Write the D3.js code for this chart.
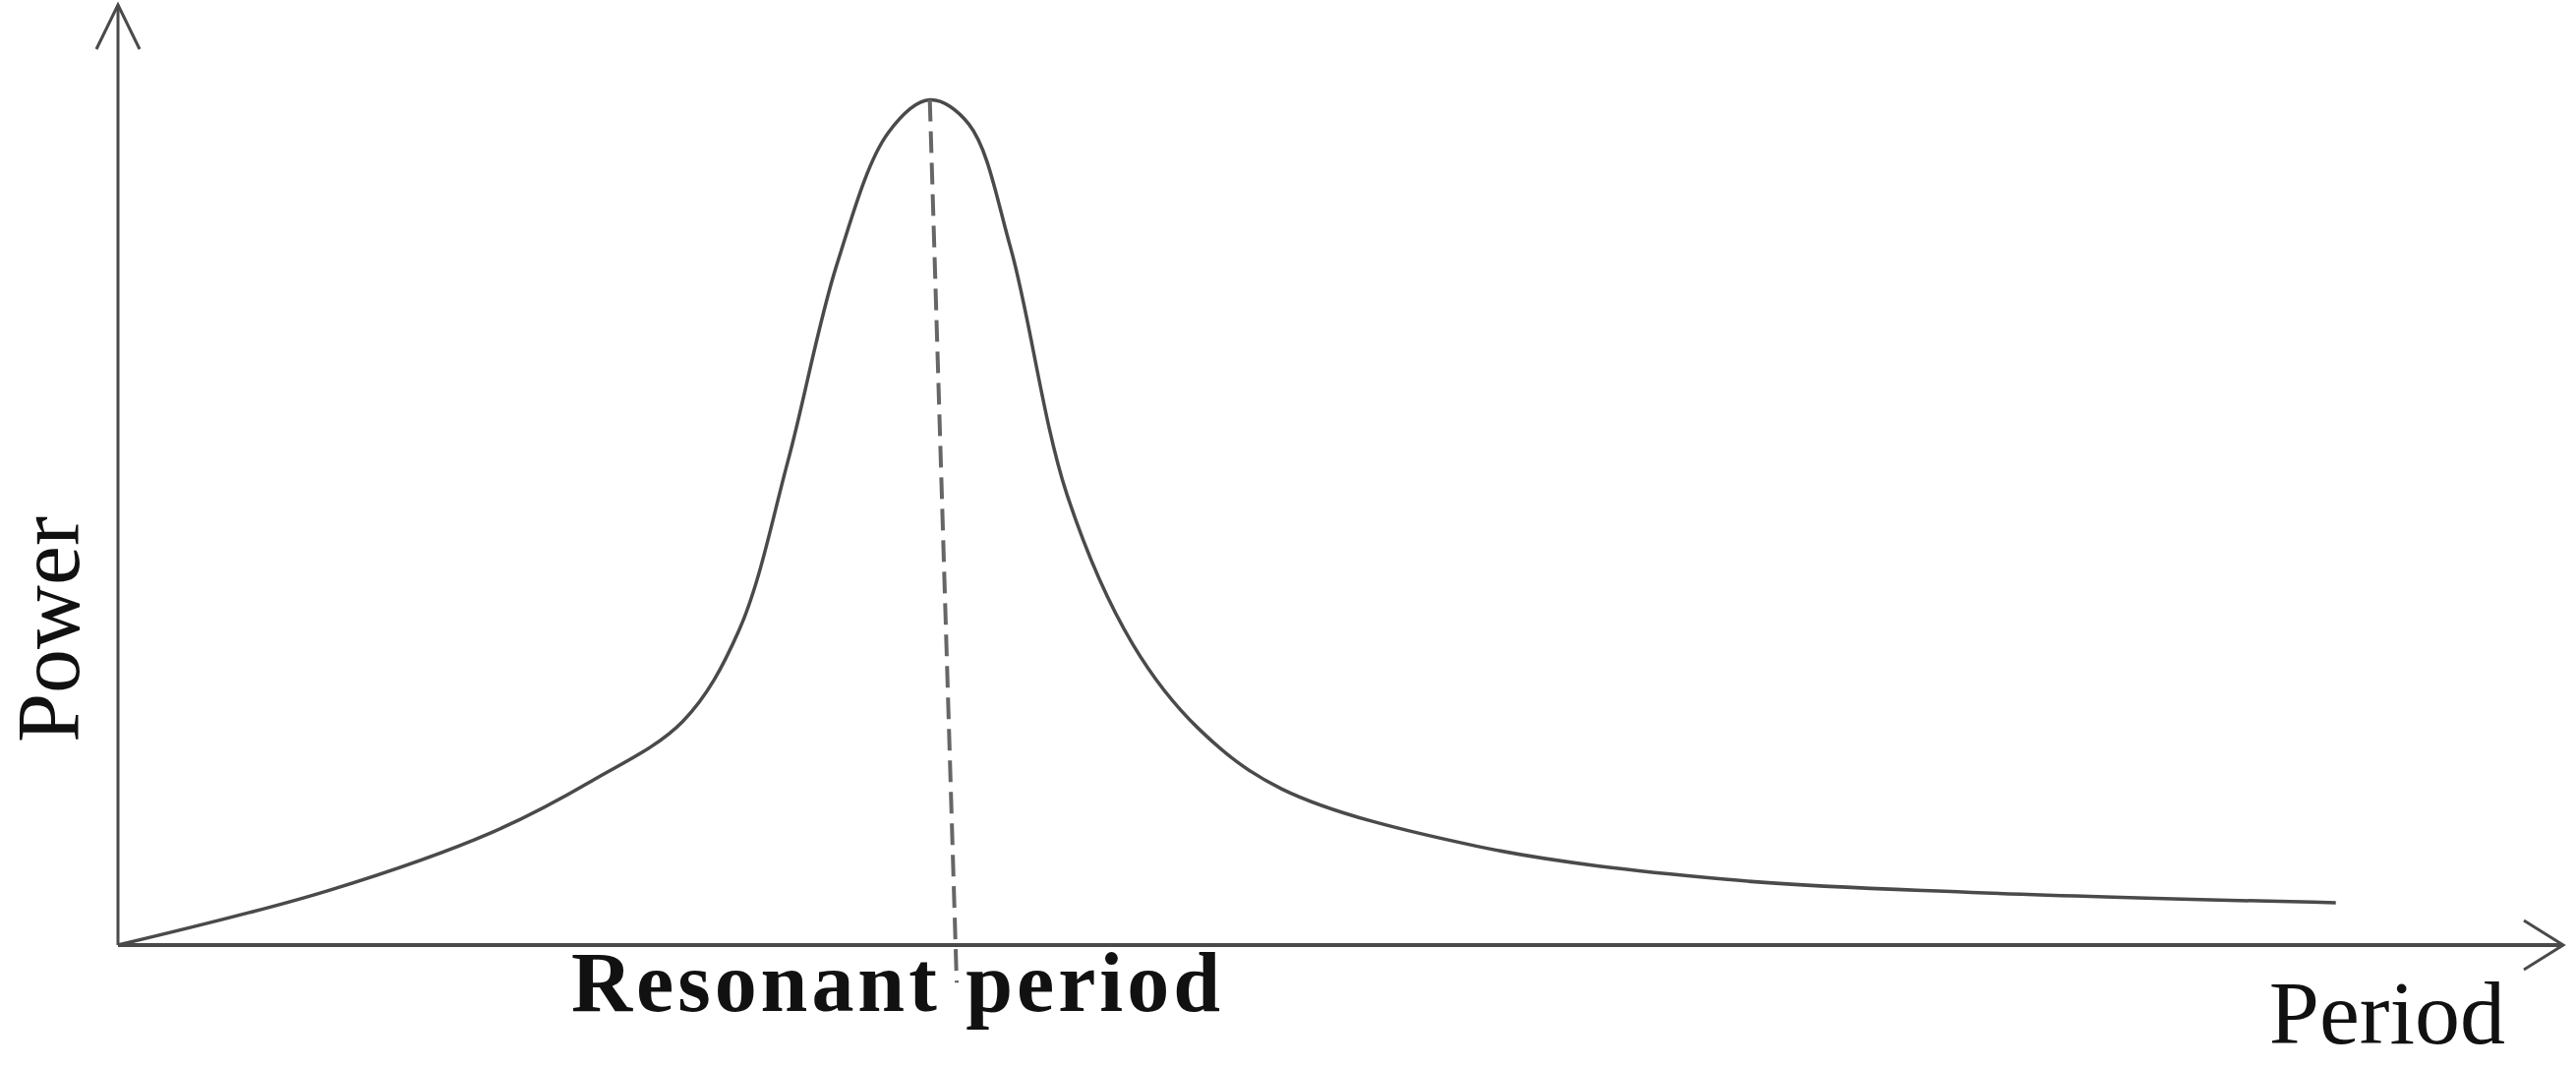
<!DOCTYPE html>
<html><head><meta charset="utf-8">
<script src="https://cdn.jsdelivr.net/npm/d3@7"></script>
<style>body{margin:0;background:#fff}</style></head>
<body><svg id="c" width="2620" height="1086"></svg>
<script>
const period = [0,8.6,15.3,19.4,23.1,25.4,27.4,29.4,31.5,33.2,34.8,36.5,38.8,41.5,44.2,47.6,55.6,65.7,75.8,90.7];
const power  = [0,5.8,12.0,17.5,23.8,33.5,51.5,72.4,86.4,89.9,87.3,74.2,48.0,32.0,23.0,16.6,10.5,7.0,5.6,4.5];
const resonantLine = [[33.2,89.9],[34.3,-4]];
const labels = {x:"Period", y:"Power", res:"Resonant period"};

const svg = d3.select("#c");
const x = d3.scaleLinear().domain([0,100]).range([120,2607]);
const y = d3.scaleLinear().domain([0,100]).range([961,5]);
const col = "#4a4a4a";

svg.append("line").attr("x1",x(0)).attr("y1",y(0)).attr("x2",x(100)).attr("y2",y(0)).attr("stroke",col).attr("stroke-width",4);
svg.append("line").attr("x1",x(0)).attr("y1",y(0)).attr("x2",x(0)).attr("y2",y(100)).attr("stroke",col).attr("stroke-width",3);
svg.append("path").attr("d",`M${x(100)-40},${y(0)-25}L${x(100)},${y(0)}L${x(100)-40},${y(0)+25}`).attr("fill","none").attr("stroke",col).attr("stroke-width",3);
svg.append("path").attr("d",`M${x(0)-22},${y(100)+45}L${x(0)},${y(100)}L${x(0)+22},${y(100)+45}`).attr("fill","none").attr("stroke",col).attr("stroke-width",3);

const pts = period.map((p,i)=>[p,power[i]]);
svg.append("path").attr("d",d3.line().x(d=>x(d[0])).y(d=>y(d[1])).curve(d3.curveCatmullRom.alpha(0.5))(pts))
  .attr("fill","none").attr("stroke",col).attr("stroke-width",3.5);

svg.append("path").attr("d",d3.line().x(d=>x(d[0])).y(d=>y(d[1]))(resonantLine))
  .attr("fill","none").attr("stroke","#666").attr("stroke-width",4).attr("stroke-dasharray","22,10");

svg.append("text").attr("x",911).attr("y",1028).attr("text-anchor","middle")
  .attr("font-family","Liberation Serif").attr("font-weight","bold").attr("font-size",86)
  .attr("textLength",660).attr("fill","#111").text(labels.res);
svg.append("text").attr("x",2548).attr("y",1061).attr("text-anchor","end")
  .attr("font-family","Liberation Serif").attr("font-size",92).attr("fill","#111").text(labels.x);
svg.append("text").attr("transform","translate(80,640) rotate(-90)").attr("text-anchor","middle")
  .attr("font-family","Liberation Serif").attr("font-size",90).attr("fill","#111").text(labels.y);
</script></body></html>
